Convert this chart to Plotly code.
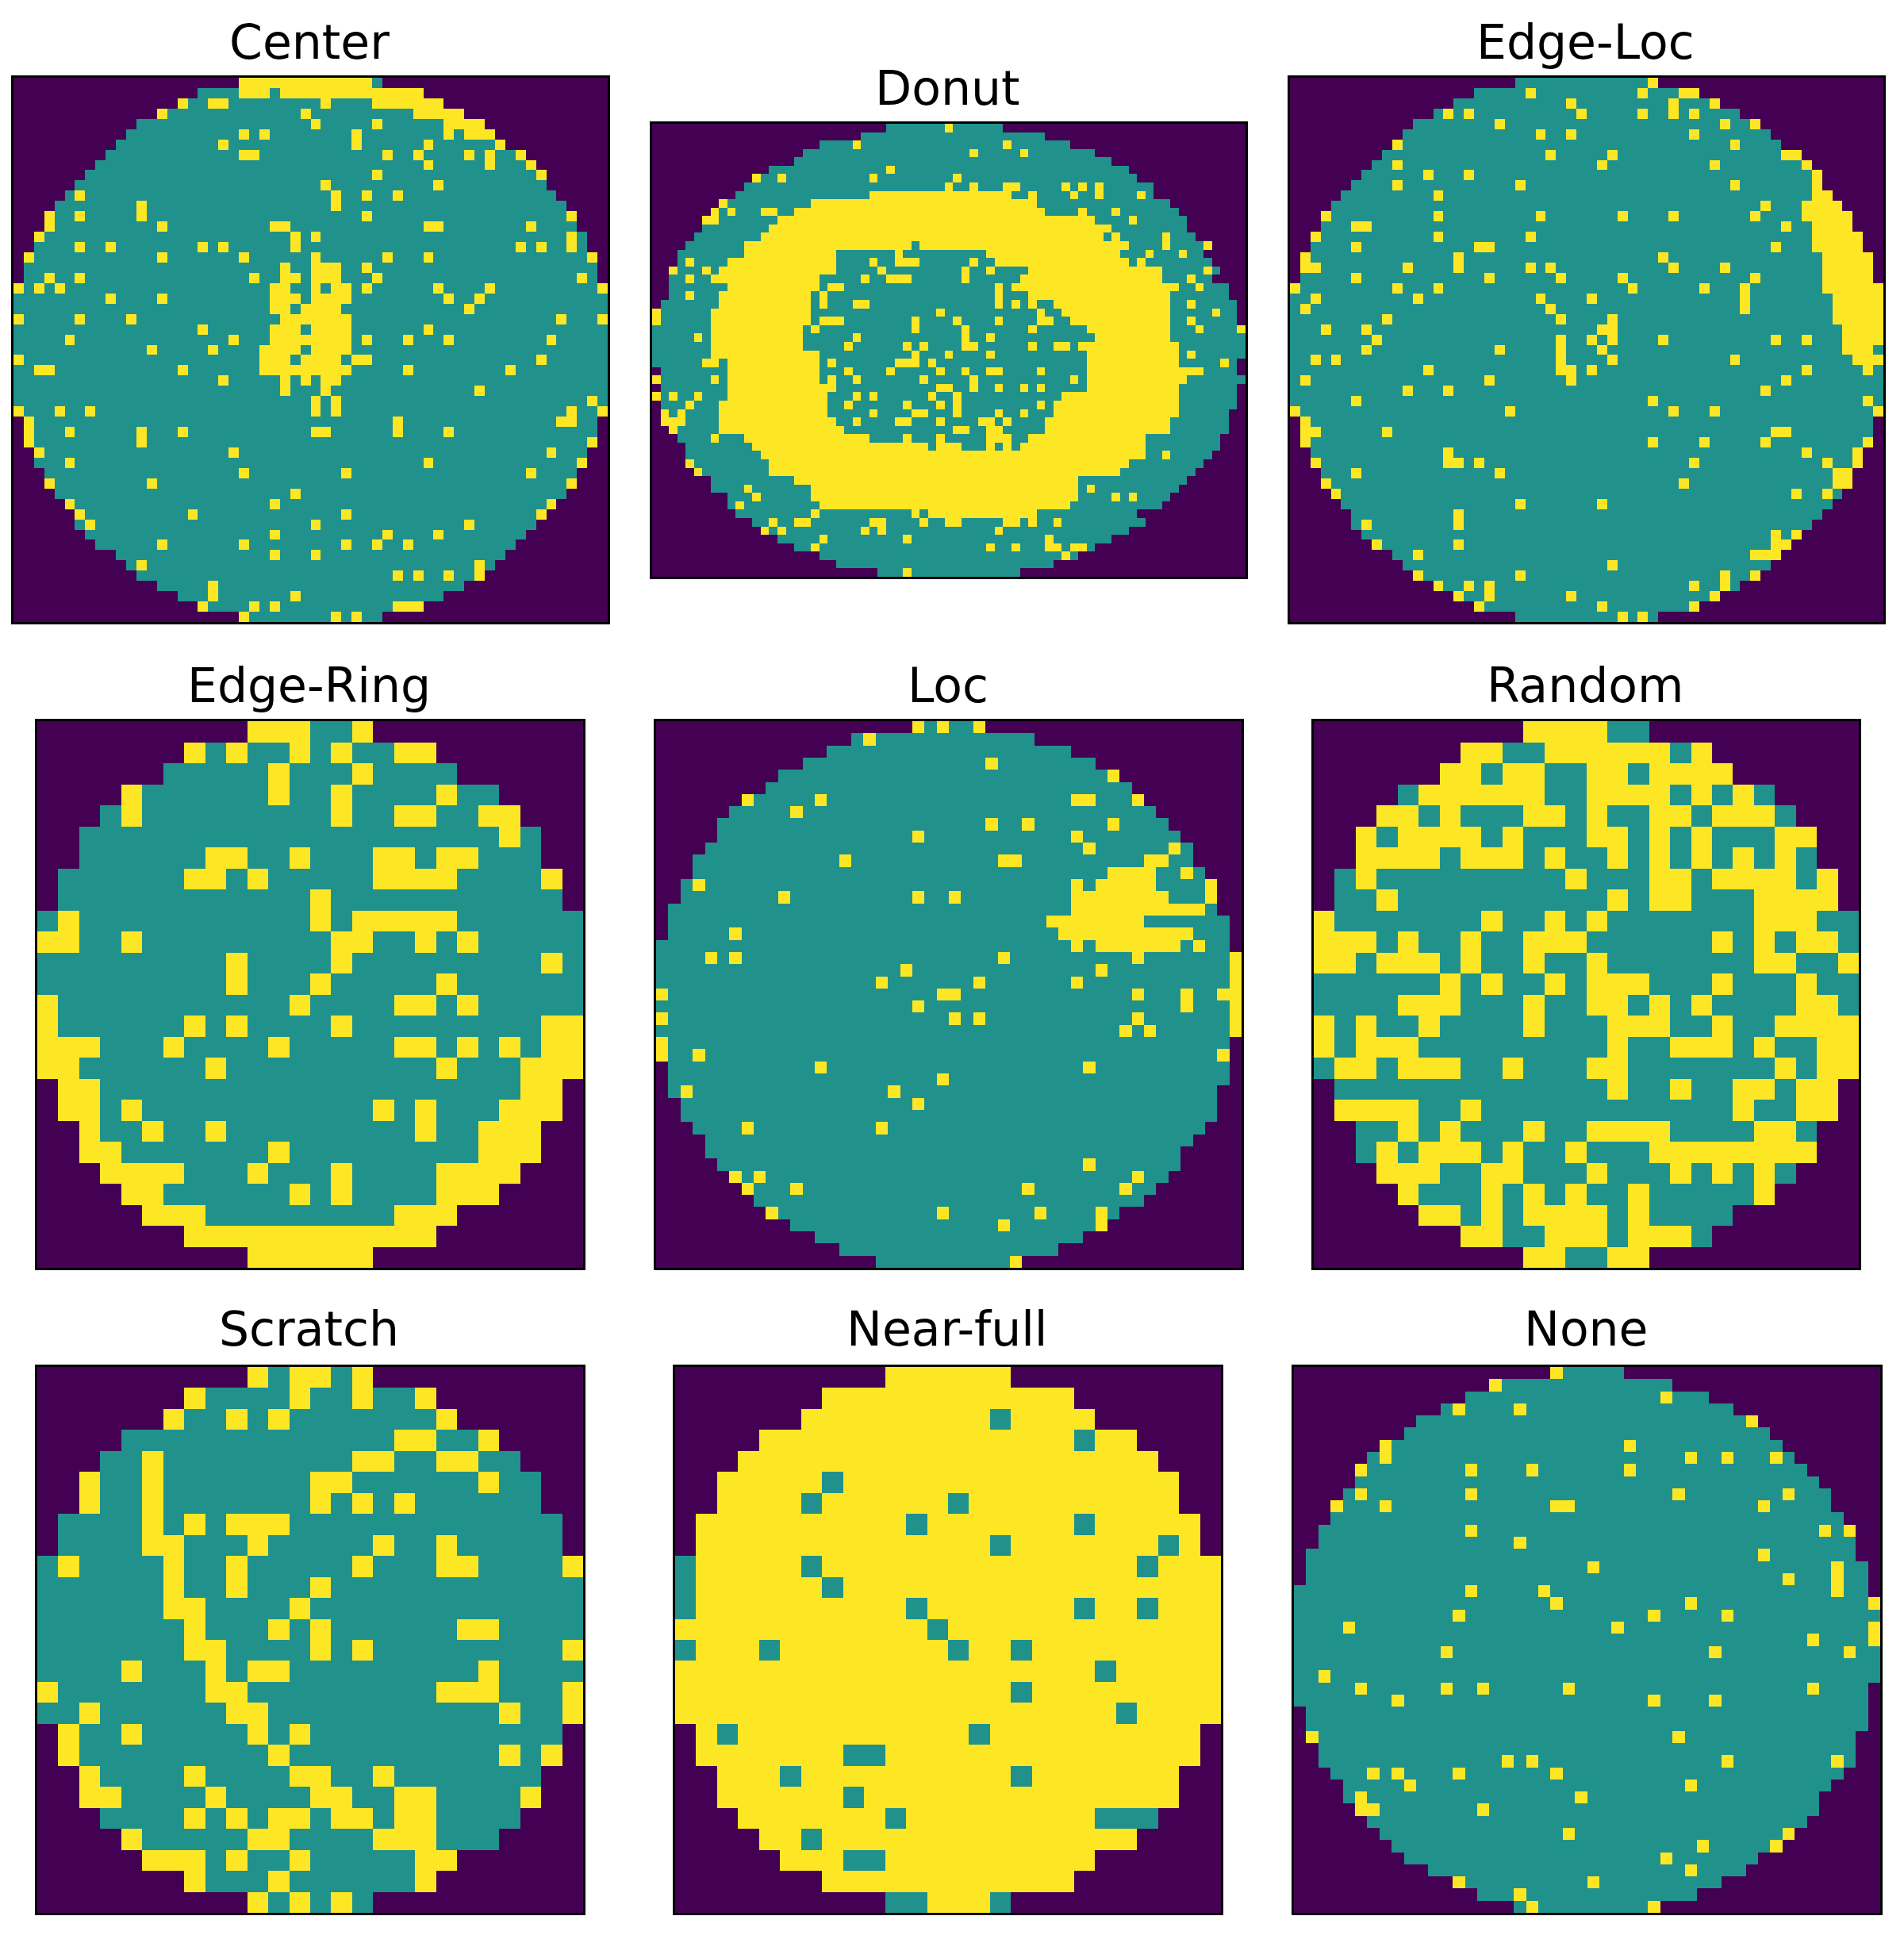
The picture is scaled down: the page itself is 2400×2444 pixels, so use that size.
import numpy as np
import plotly.graph_objects as go

TITLES = ["Center", "Donut", "Edge-Loc", "Edge-Ring", "Loc", "Random", "Scratch", "Near-full", "None"]

# Wafer outlines: first and one-past-last die column of each row
LEFT_53 = [22,18,16,14,12,11,10,9,8,7,6,5,4,3,3,2,2,1,1,1,0,0,0,0,0,0,0,0,0,0,0,0,0,1,1,1,2,2,3,3,4,5,6,6,7,8,10,11,12,14,16,18,22]
RIGHT_53 = [36,40,42,44,46,47,48,50,51,52,52,53,54,55,55,56,56,57,57,57,58,58,58,58,58,58,58,58,58,58,58,58,58,57,57,57,56,56,55,55,54,53,52,51,50,49,48,47,46,44,42,40,36]
LEFT_45 = [21,16,14,12,10,9,7,6,5,5,4,3,3,2,2,1,1,1,0,0,0,0,0,0,0,0,0,0,1,1,1,2,2,3,4,4,5,6,7,8,9,11,13,15,18]
RIGHT_45 = [27,31,34,36,38,39,40,41,42,43,44,44,45,46,46,46,47,47,47,48,48,48,48,48,48,48,47,47,47,47,46,46,46,45,44,43,43,42,41,40,38,37,35,33,30]
LEFT_26 = [10,7,6,4,3,2,2,1,1,0,0,0,0,0,0,0,0,1,1,2,2,3,4,5,7,10]
RIGHT_26 = [16,19,20,22,23,24,24,25,25,26,26,26,26,26,26,26,26,25,25,24,24,23,22,20,19,16]
DONUT_LEFT = [28,25,20,18,17,14,12,11,10,8,7,6,6,5,4,3,3,2,2,2,2,1,0,0,0,0,0,0,0,1,0,1,0,1,1,1,2,3,4,4,4,5,7,7,9,9,10,12,13,15,17,20,22,27]
DONUT_RIGHT = [42,47,50,53,55,57,58,60,60,62,63,64,64,65,67,66,67,68,67,69,69,70,70,70,71,71,71,71,70,70,71,70,70,70,69,69,69,68,68,67,66,65,64,63,62,61,58,59,57,55,53,51,48,44]

# Failing dies per row, as column runs
CENTER = [
"22-34","22-24 26-39","16 19-20 30 35-41","14 28 39-43","29 35 42-45","22 24 33 42 44-46","20 33 40 47",
"22-23 36 39 44 46 49","40 46 50","35 51","30 41","6 31 34 37","12 31","3 6 12 34 54","3 14 25-26 40-41 50",
"2 27 29 54","6 9 18 20 27 49 51 54","1 14 22 29 36 40 56","26 29-31 34","3 6 23 26-27 29-31 35 55",
"0 2 4 25-26 29 31-32 34 41 46 57","9 14 25-27 29-32 42 45","25-26 28-31 44","0 6 11 26-32 53 57",
"18 25-27 29-32 40","5 21 25-32 34 38 42 52","13 19 24-27 29-32","0 24-26 28-31 33-34 51","2-3 16 24-32 38 48",
"20 26 28 30-31","26 30 45","29 31 56","0 4 7 29 31 54 57","1 37 53-54","1 5 12 16 29-30 37 42","1 12 56","2 21 52",
"5 40 55","22 32 50","3 13 54","27","5 25 52","6 17 32 51","7 29 44","25 36 41","14 22 32 35 38","25 29","12 45",
"37 39 42 45","19","19 27","18 23 25 37-39","22 31 33"]
EDGE_LOC = [
"35","23 34 38-39","27 37 41","15 17 28 34 37 39","20 42 45","24 27 39","10 43","25 31 48-49","10 30 41 50","13 17 51",
"10 22 43 51","14 51-52","46 50-53","3 14 24 32 37 45 50-54","6-7 48 51-54","2 14 23 51-55","6 18-19 47 51-55",
"1 16 36 52-56","1-2 11 16 23 25 37 42 52-56","6 19 26 32 45 52-56","0 10 14 33 40 44 52-57","2 12 24 29 44 53-57",
"1 25 44 53-57","9 26 31 53-57","3 7 30-31 54-57","8 26 29 31 36 47 50 54-57","7 20 26 30 54-56","2 4 26 31 43 55-57",
"13 26-27 29 50 56","1 19 27 48","11 15 46","6 35 56","0 21 37 41 57","1","1-2 9 47-48","1 35 40 46 56","15 50 55",
"2 15-16 18 39 52 55","6 20 53-54","3 38 53-54","4 49 52","22 30","16","7 16","47 49","8 16 47-48","12 45-47","31",
"12 22 42 45","14 17 19 39 42","16 19 27 41","18 30 39","32 34"]
DONUT = [
"35","","24 42","38 44","","28","12 15 26 36","35 38 42-43 49 51 53","26-42 45 50 53 58","8 19-45","7 9 13-14 17-46 51 55",
"6-7 15-52 57","14-54","13-53 55 61","11-30 32-56 61 66","11-21 29 40-55 59 63","4 9-21 26 29-31 38 41-56 58",
"2 6 8-21 27 37 40 45-60 66","4 7-19 25 28-30 37 44-60 64","9-19 21-22 41 43-62 65","4 8-18 20 41 45-61",
"8-18 20 24-25 41 43 45 48-61 64","0 7-18 34 46 49-61 67","0 7-18 20-22 31 36 41 46-47 50-61 64",
"7-17 19 31 37 45 52-61 65 70","5 7-17 24 37 40 53-61","7-17 23 30 32 37-38 45 48-49 51-62",
"7-19 31 35 40 52-62 64","6-7 9-19 21 29-31 33 52-62 68","9-19 23 28 34 37 40-41 46 52-65",
"0 7 9-19 21 24 32 38 50 52-63","9-21 34-35 38 41 44 46 52-62","0 2 5 9-20 24 26 33 36 49-62",
"4 8-20 23 30 34 36 46 48-62","1 3 8-20 26 31-32 36 41 44 48-62","1-3 8-21 24 29-30 34 39-40 42 47-61",
"2 8-22 36-37 40-41 47-61","7 11-25 30 34 40-42 45-58","12-32 34-36 40 42 44-58","13-58 61","4 14-56","5 14-55",
"17-50","11 19-50 52","12 19-50 55 57","10 20-49","19 31 33-45","14 17-18 26-27 32 35-36 42-43 45 48","13 15 25 27 41",
"20 30 47","19 40 43 47-48 50-51","49","","30"]
EDGE_RING = [
"10-12 15","7 9 12 14 17-18","11 15","4 11 14 19","4 14 17-18 21-22","22","8-9 12 16-17 19-20","7-8 10 16-19 24","13",
"1 13 15-19","0-1 4 14-15 18 20","9 14 24","9 13 19","0 12 17-18 20","0 7 9 14 24-25","0-2 6 11 17-18 20 22 24-25",
"0-1 8 19 23-25","1-2 23-24","1-2 4 16 18 22-24","2 5 8 18 21-23","2-3 11 21-23","3-6 10 14 19-22","4-5 12 14 19-21",
"5-7 17-19","7-18","10-15"]
LOC = [
"21 23 26","17","","27","37","","7 13 34-35 39","11","27 30 37","21 34","35 42","15 28-29 40-41","37-40 43",
"3 34 36-40 45","10 21 24 34-41 45","34-44","32-39","6 33-43","34 36-42 44","4 6 28 39 47","20 36 47","18 26 34 47",
"0 23-24 39 43 46-47","21 43 47","0 24 26 39 47","38 40 47","0","0 3 46","13 35","23","2 19","21","","7 18","","",
"35","6 8 39","7 11 30 38","","9 23 31 36","28 36","","","29"]
RANDOM = [
"10-13","7-8 11-16 18","6-7 9-10 13-14 16-19","5-10 13-16 18 20","3-4 6 10-11 13 16-17 19-21","2 4-7 9 13-14 16 18 22-23",
"2-5 7-9 11 14 16 18 20 22","2 12 16-17 19-22 24","3 14 16-17 21-24","0 8 11 13 21-23","0-2 4 7 10-12 19 21 23-24",
"0-1 3-5 7 10 13 21-22 25","6 8 11 13-15 19 23","4-6 10 13-14 16 18 23-24","0 2 5 10 14-16 19 22-25","0 2-4 14 17-19 21 24-25",
"1-2 4-6 9 13-14 22 24-25","14 17 20-21 23-24","1-4 7 20 23-24","4 6 10 13-16 21-22","3 5-7 9 12 16-23","3-5 8-9 13 17 19 21",
"4 8 10 12 15 21","5-6 8 10-13 15","7-8 11-13 15-17","10-11 14-15"]
SCRATCH = [
"10 12-13 15","7 12 15 18","6 9 11 19","17-18 21","5 15-16 19-20","2 5 13-14 21","2 5 13 15 17","5 7 9-11","5-6 10 16 19",
"1 6 9 15 19-20 25","6 9 13","6-7 12","7 11 13 20-21","7-8 13 15 25","4 8 10-11 21","0 8-9 19-21 25","2 9-10 22 25",
"1 4 10 12","1 11 22 24","2 7 12-13 16","2-3 8 13-14 17-18 23","7 9 11-12 14-15 17-18","4 10-11 16-18","5-7 9 12 18-19",
"7 11 18","10 12 14"]
NEAR_FULL_TEAL = [
"","","15","19","","7","6 13","11 19","15 23","0 6 22","0 7","0 11 19 22","12","0 4 13 16","20","16","21","2 14","8-9",
"5 16","8","10 20-22","6","8-9","","10-11 15"]
NONE_WAFER = [
"21","16","30","13 18","37","","7 27","7 32 35 39","5 14 19 27","","5 14 31 40","3 7 21-22 38","","14 43 45","18","38",
"24 44","40 44","14 20 44","21 32 47","13 29 35","4 26 47","42 47","12 34 45","","2","5 12 15 22 42","8 29 34","","",
"1 31","","17 19 35 44","6 8 13 21","9 32","5 23","5-6 15","","22 40","33 39","30","32","13 24","18","19 29"]

# Inner plot frames in page pixels: left, right, top, bottom
FRAMES = [(17,766,98,784),(822,1570,156,727),(1626,2374,98,784),
          (47,735,909,1598),(827,1565,909,1598),(1656,2343,909,1598),
          (47,735,1723,2411),(851,1539,1723,2411),(1631,2370,1723,2411)]
TITLE_SHIFTS = [8, 8, 8, 8, 8, 8, 11, 11, 11]
WIDTH, HEIGHT = 2400, 2444
COLORS = [[0, "#440154"], [0.5, "#21918c"], [1, "#fde725"]]


def build(left, right, marks, inside=1, mark=2):
    cols = max(right)
    z = np.zeros((len(left), cols), dtype=int)
    for r, (a, b, row) in enumerate(zip(left, right, marks)):
        z[r, a:b] = inside
        for tok in row.split():
            s, _, e = tok.partition("-")
            z[r, int(s):int(e or s) + 1] = mark
    return z


GRIDS = [
    build(LEFT_53, RIGHT_53, CENTER),
    build(DONUT_LEFT, DONUT_RIGHT, DONUT),
    build(LEFT_53, RIGHT_53, EDGE_LOC),
    build(LEFT_26, RIGHT_26, EDGE_RING),
    build(LEFT_45, RIGHT_45, LOC),
    build(LEFT_26, RIGHT_26, RANDOM),
    build(LEFT_26, RIGHT_26, SCRATCH),
    build(LEFT_26, RIGHT_26, NEAR_FULL_TEAL, inside=2, mark=1),
    build(LEFT_45, RIGHT_45, NONE_WAFER),
]

fig = go.Figure()
annotations = []
layout_axes = {}
for i, (title, z, (x0, x1, y0, y1), shift) in enumerate(zip(TITLES, GRIDS, FRAMES, TITLE_SHIFTS), start=1):
    suffix = "" if i == 1 else str(i)
    fig.add_trace(go.Heatmap(z=z, zmin=0, zmax=2, colorscale=COLORS, showscale=False,
                             hoverinfo="skip", xaxis=f"x{suffix}", yaxis=f"y{suffix}"))
    common = dict(showgrid=False, zeroline=False, showticklabels=False, ticks="",
                  showline=True, linecolor="black", linewidth=2.5, mirror=True)
    layout_axes[f"xaxis{suffix}"] = dict(domain=[x0 / WIDTH, x1 / WIDTH], anchor=f"y{suffix}",
                                         range=[-0.5, z.shape[1] - 0.5], **common)
    layout_axes[f"yaxis{suffix}"] = dict(domain=[1 - y1 / HEIGHT, 1 - y0 / HEIGHT], anchor=f"x{suffix}",
                                         range=[z.shape[0] - 0.5, -0.5], **common)
    annotations.append(dict(text=title, x=(x0 + x1 - 3) / 2 / WIDTH, y=1 - y0 / HEIGHT, xref="paper", yref="paper",
                            xanchor="center", yanchor="bottom", yshift=shift, showarrow=False,
                            font=dict(family="DejaVu Sans", size=60, color="black")))

fig.update_layout(width=WIDTH, height=HEIGHT, margin=dict(l=0, r=0, t=0, b=0), autosize=False,
                  paper_bgcolor="white", plot_bgcolor="white", annotations=annotations, **layout_axes)
fig.write_html("out.html", config={"displayModeBar": False},
               post_script="document.body.style.margin='0';document.body.style.overflow='hidden';")
